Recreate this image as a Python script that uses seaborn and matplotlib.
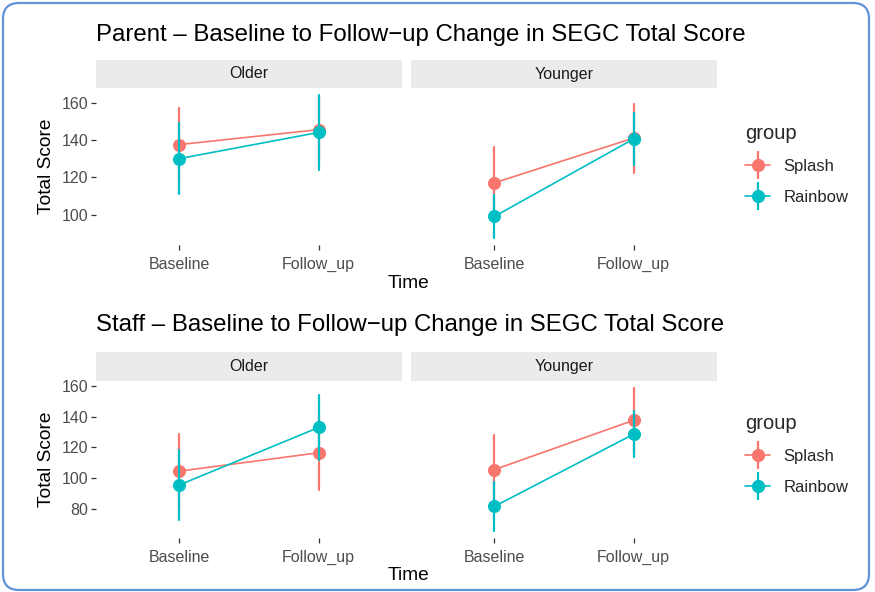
import matplotlib
matplotlib.use("Agg")
import matplotlib.pyplot as plt
import matplotlib.transforms as mtransforms
from matplotlib.lines import Line2D
from matplotlib.patches import FancyBboxPatch
from matplotlib.ticker import MultipleLocator
import seaborn as sns
import numpy as np
import pandas as pd

# ---- data ----
times = ["Baseline", "Follow_up"]
ages = ["Older", "Younger"]
groups = ["Splash", "Rainbow"]
raters = ["Parent", "Staff"]

# order: Older/Baseline, Older/Follow_up, Younger/Baseline, Younger/Follow_up
parent_splash_mean = [137.5, 145.5, 117.0, 141.0]
parent_splash_err = [19.5, 18.0, 19.0, 18.5]
parent_rainbow_mean = [130.0, 144.0, 99.0, 140.5]
parent_rainbow_err = [19.0, 20.0, 11.5, 14.0]

staff_splash_mean = [104.5, 116.5, 105.5, 137.7]
staff_splash_err = [24.5, 24.5, 22.5, 21.0]
staff_rainbow_mean = [95.5, 133.0, 81.5, 128.6]
staff_rainbow_err = [23.0, 21.0, 16.0, 15.0]

palette = {"Splash": "#F8766D", "Rainbow": "#00BFC4"}

# ---- long table: low / mean / high per cell, median + (min, max) gives the pointrange ----
series = {
    ("Parent", "Splash"): (parent_splash_mean, parent_splash_err),
    ("Parent", "Rainbow"): (parent_rainbow_mean, parent_rainbow_err),
    ("Staff", "Splash"): (staff_splash_mean, staff_splash_err),
    ("Staff", "Rainbow"): (staff_rainbow_mean, staff_rainbow_err),
}
rows = []
for (rater, grp), (means, errs) in series.items():
    i = 0
    for age in ages:
        for t in times:
            m, e = means[i], errs[i]
            for v in (m - e, m, m + e):
                rows.append({"rater": rater, "group": grp, "age": age, "Time": t, "Score": v})
            i += 1
df = pd.DataFrame(rows)

# ---- styling ----
sns.set_theme(style="white")
plt.rcParams["font.family"] = ["Liberation Sans", "DejaVu Sans"]

W, H = 875, 592
fig = plt.figure(figsize=(W / 100, H / 100), dpi=100)


def box(left, top, width, height):
    return [left / W, 1 - (top + height) / H, width / W, height / H]


# rounded screenshot frame
px = mtransforms.Affine2D().scale(1 / W, 1 / H) + fig.transFigure
frame = FancyBboxPatch((3, 2), 866, 587, boxstyle="round,pad=0,rounding_size=16",
                       transform=px, facecolor="none", edgecolor="#5F92D6", linewidth=1.6)
fig.patches.append(frame)

panel_left = {"Older": 96, "Younger": 411}
panel_w = 306
layout = {"Parent": {"title": 35, "strip": 60, "panel": 88, "h": 157, "xlab": 284},
          "Staff": {"title": 325, "strip": 352, "panel": 381, "h": 157, "xlab": 575}}

for rater in raters:
    L = layout[rater]
    sub = df[df["rater"] == rater]
    lo, hi = sub["Score"].min(), sub["Score"].max()
    pad = (hi - lo) * 0.05

    fig.text(96 / W, 1 - L["title"] / H,
             f"{rater} \u2013 Baseline to Follow\u2212up Change in SEGC Total Score",
             ha="left", va="center", fontsize=17.3, color="black")

    for j, age in enumerate(ages):
        # strip
        sax = fig.add_axes(box(panel_left[age], L["strip"], panel_w, L["panel"] - L["strip"]))
        sax.set_facecolor("#EBEBEB")
        sax.set_xticks([])
        sax.set_yticks([])
        for s in sax.spines.values():
            s.set_visible(False)
        sax.text(0.5, 0.5, age, ha="center", va="center", fontsize=11.5,
                 color="#1A1A1A", transform=sax.transAxes)

        ax = fig.add_axes(box(panel_left[age], L["panel"], panel_w, L["h"]))
        cell = sub[sub["age"] == age]
        sns.pointplot(data=cell, x="Time", y="Score", hue="group", order=times,
                      hue_order=groups, palette=palette, estimator="median",
                      errorbar=lambda v: (v.min(), v.max()), markers="o",
                      markersize=8.5, linewidth=1.2, err_kws={"linewidth": 1.6},
                      legend=False, ax=ax)
        ax.set_xlim(-0.6, 1.6)
        ax.set_ylim(lo - pad, hi + pad)
        ax.yaxis.set_major_locator(MultipleLocator(20))
        ax.set_facecolor("white")
        for s in ax.spines.values():
            s.set_visible(False)
        ax.grid(False)
        ax.set_xlabel("")
        ax.set_ylabel("")
        ax.tick_params(axis="both", length=3.5, width=0.9, color="#333333",
                       labelsize=11.5, labelcolor="#4D4D4D", pad=2)
        ax.tick_params(axis="x", pad=5)
        ax.tick_params(axis="both", direction="out", bottom=True, left=True)
        if j == 0:
            ax.set_ylabel("Total Score", fontsize=13.8, color="black", labelpad=5)
        else:
            ax.tick_params(axis="y", left=False, labelleft=False)

    fig.text(408 / W, 1 - L["xlab"] / H, "Time", ha="center", va="center",
             fontsize=13.8, color="black")

    handles = []
    for g in groups:
        c = palette[g]
        handles.append((Line2D([], [], color=c, linewidth=1.2, marker="o", markersize=8.5),
                        Line2D([], [], color=c, linestyle="none", marker="|",
                               markersize=20, markeredgewidth=1.6)))
    top = L["title"] + 89
    fig.legend(handles, groups, title="group", loc="upper left",
               bbox_to_anchor=(745 / W, 1 - top / H), frameon=False,
               fontsize=12, title_fontsize=14.5, alignment="left",
               handlelength=1.5, handletextpad=0.8, labelspacing=0.95,
               borderpad=0, borderaxespad=0)

fig.savefig("out.png", dpi=100)
